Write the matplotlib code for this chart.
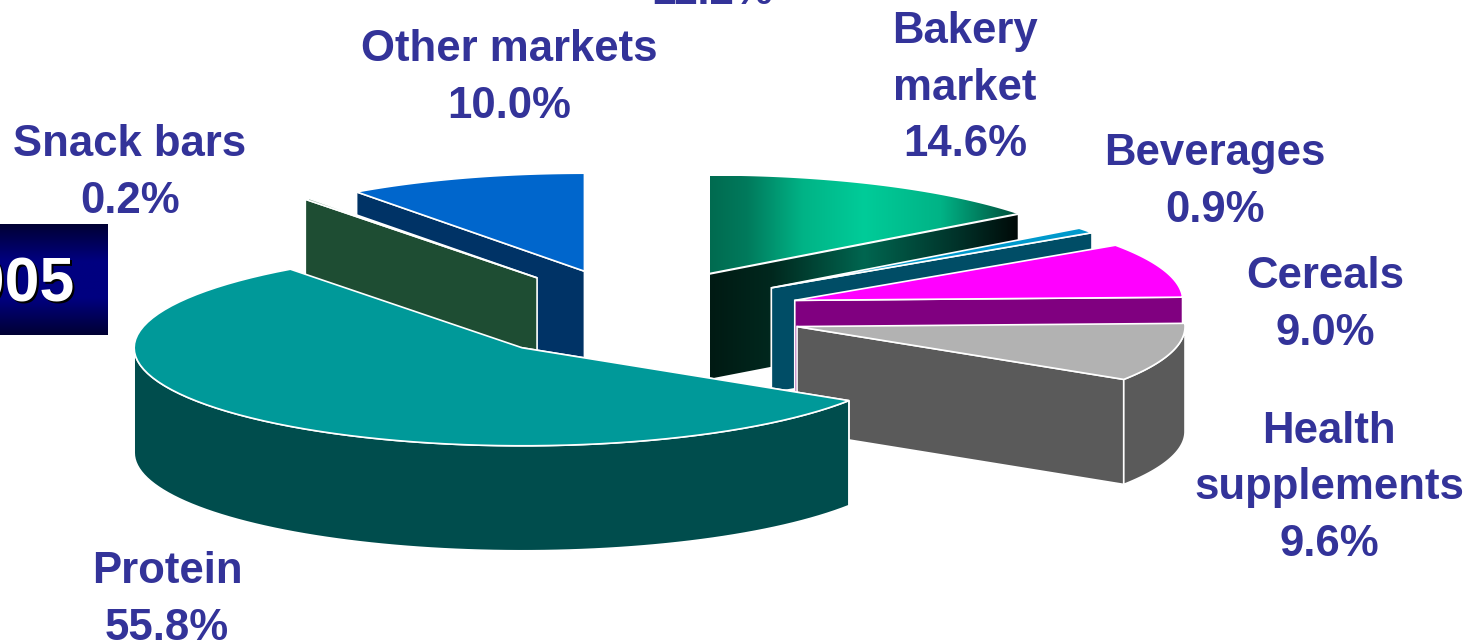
import numpy as np
import matplotlib
matplotlib.use('Agg')
import matplotlib.pyplot as plt
from matplotlib.colors import LinearSegmentedColormap
from matplotlib.patches import Polygon

plt.rcParams['font.family'] = ['Liberation Sans', 'DejaVu Sans']

# clockwise from 12 o'clock
names = ['Bakery\nmarket', 'Beverages', 'Cereals', 'Health\nsupplements', 'Protein', 'Snack bars', 'Other markets']
shares = [14.6, 0.9, 9.0, 9.6, 55.8, 0.2, 10.0]
top_colors = ['#00cc99', '#0099cc', '#ff00ff', '#b2b2b2', '#009999', '#2f6b4a', '#0066cc']
side_colors = ['#003d2e', '#004d66', '#800080', '#5a5a5a', '#004d4d', '#1e4d33', '#003366']
label_xy = [(965, 88), (1215, 182), (1325, 305), (1329, 488), (167, 600), (130, 173), (509, 78)]

# pie geometry in pixels
cx, cy = 636, 314.5
rx, ry = 388, 98
depth = 105
explode_x, explode_y = 167, 45.5
text_color = '#333399'

# back slices first, protein sits in front of everything
draw_order = [6, 5, 0, 1, 2, 3, 4]

fig = plt.figure(figsize=(14.65, 6.42), dpi=100)
ax = fig.add_axes([0, 0, 1, 1])
ax.set_xlim(0, 1465)
ax.set_ylim(642, 0)
ax.axis('off')


def rim(x0, y0, t1, t2):
    t = np.radians(np.linspace(t1, t2, 80))
    return np.column_stack([x0 + rx * np.sin(t), y0 - ry * np.cos(t)])


def gradient_fill(poly, cmap, x1, x2, y1, y2, vertical=False):
    patch = Polygon(poly, closed=True, fc='none', ec='none', zorder=z)
    ax.add_patch(patch)
    g = np.linspace(0, 1, 256)
    g = g.reshape(-1, 1) if vertical else g.reshape(1, -1)
    im = ax.imshow(g, cmap=cmap, extent=[x1, x2, y2, y1], aspect='auto', zorder=z)
    im.set_clip_path(patch)


bakery_top = LinearSegmentedColormap.from_list('bt', [(0, '#006b50'), (0.12, '#007a5c'), (0.3, '#00b386'), (0.5, '#00cc99'), (0.75, '#00b386'), (1, '#004d3a')])
bakery_side = LinearSegmentedColormap.from_list('bs', [(0, '#001a13'), (0.2, '#00281e'), (0.5, '#006650'), (0.8, '#00332a'), (1, '#000a08')])

edges = np.cumsum([0] + shares) / sum(shares) * 360
z = 2
for i in draw_order:
    t1, t2 = edges[i], edges[i + 1]
    mid = np.radians((t1 + t2) / 2)
    x0 = cx + explode_x * np.sin(mid)
    y0 = cy - explode_y * np.cos(mid)
    apex = np.array([x0, y0])
    down = np.array([0, depth])

    # cut face that looks at the viewer
    t_cut = t2 if t2 < 180 else t1
    p = rim(x0, y0, t_cut, t_cut)[0]
    face = np.array([apex, p, p + down, apex + down])
    if i == 0:
        gradient_fill(face, bakery_side, x0, p[0], p[1], y0 + depth)
    else:
        ax.add_patch(Polygon(face, closed=True, fc=side_colors[i], ec='white', lw=1.2, zorder=z))
    z += 1

    # outer wall, only the part below the horizontal axis of the ellipse
    a, b = max(t1, 90), min(t2, 270)
    if a < b:
        arc = rim(x0, y0, a, b)
        wall = np.vstack([arc, arc[::-1] + down])
        ax.add_patch(Polygon(wall, closed=True, fc=side_colors[i], ec='white', lw=1.2, zorder=z))
        z += 1

    # top
    top = np.vstack([apex, rim(x0, y0, t1, t2)])
    if i == 0:
        gradient_fill(top, bakery_top, x0, top[:, 0].max(), top[:, 1].min(), top[:, 1].max())
        ax.plot([x0, top[-1, 0]], [y0, top[-1, 1]], color='white', lw=1.5, zorder=z + 1)
    else:
        ax.add_patch(Polygon(top, closed=True, fc=top_colors[i], ec='white', lw=1.2, zorder=z))
    z += 2

for name, share, (lx, ly) in zip(names, shares, label_xy):
    ax.text(lx, ly, f'{name}\n{share:.1f}%', color=text_color, fontsize=31.5, fontweight='bold',
            ha='center', va='center', linespacing=1.48, zorder=50)

# label of the slice that fell off the top of the page
ax.text(712, -8, '11.2%', color=text_color, fontsize=31.5, fontweight='bold', ha='center', va='center', zorder=50)

# year badge, cut by the left page edge
badge = LinearSegmentedColormap.from_list('badge', ['#000033', '#000080', '#000080', '#000033'])
z = 60
gradient_fill(np.array([[0, 224], [108, 224], [108, 335], [0, 335]]), badge, 0, 108, 224, 335, vertical=True)
ax.text(77.5, 287.5, '2005', color='black', fontsize=45, fontweight='bold', ha='right', va='center', zorder=61)
ax.text(75, 285, '2005', color='white', fontsize=45, fontweight='bold', ha='right', va='center', zorder=62)

ax.set_xlim(0, 1465)
ax.set_ylim(642, 0)
fig.savefig('out.png', dpi=100)
